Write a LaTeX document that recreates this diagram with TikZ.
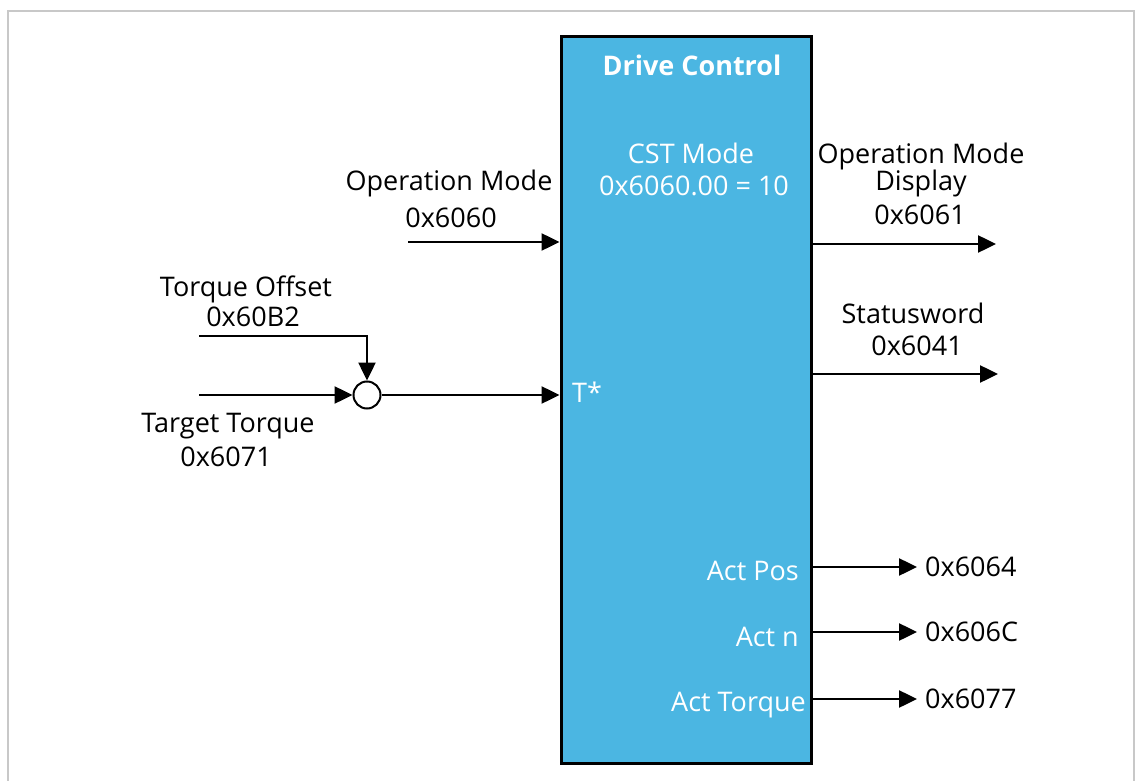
\documentclass[tikz,border=0pt]{standalone}
\usepackage{fontspec}
\setmainfont{Open Sans}
\usetikzlibrary{arrows.meta}
\definecolor{boxblue}{HTML}{4BB6E2}
\definecolor{framegray}{HTML}{C8C8C8}
\tikzset{
  lbl/.style={font=\fontsize{27}{32}\selectfont, inner sep=0pt, anchor=base, align=center},
  wlbl/.style={lbl, text=white},
  arr/.style={line width=2.5pt, -{Triangle[length=18pt,width=17pt]}},
}
\begin{document}
\begin{tikzpicture}[x=1pt,y=-1pt]
\useasboundingbox (0,0) rectangle (1136,781);
\draw[framegray, line width=2pt] (8,781) -- (8,11) -- (1134,11) -- (1134,781);

% main block
\node[draw=black, line width=3pt, fill=boxblue, minimum width=250pt, minimum height=726pt, inner sep=0pt] (dc) at (686,400) {};
\node[wlbl, font=\fontsize{27}{32}\selectfont\bfseries] (title) at (692,76) {Drive Control};
\node[wlbl] (cst) at (691,164) {CST Mode};
\node[wlbl] (cstv) at (694,196) {0x6060.00 = 10};
\node[wlbl, anchor=base west] (tstar) at (572,402) {T*};
\node[wlbl, anchor=base east] (apos) at (799,580) {Act Pos};
\node[wlbl, anchor=base east] (an) at (799,646) {Act n};
\node[wlbl, anchor=base east] (atq) at (806,711) {Act Torque};

% left inputs
\node[lbl] (om) at (449,190) {Operation Mode};
\node[lbl] (omv) at (451,228) {0x6060};
\coordinate (omin) at (408,242);
\draw[arr] (omin) -- (omin -| dc.west);

\node[lbl] (to) at (246,296) {Torque Offset};
\node[lbl] (tov) at (253,326) {0x60B2};
\node[lbl] (tt) at (228,432) {Target Torque};
\node[lbl] (ttv) at (226,466) {0x6071};

\node[draw=black, line width=2pt, fill=white, circle, minimum size=27pt, inner sep=0pt] (sum) at (367,395) {};
\coordinate (toin) at (199,336);
\coordinate (ttin) at (199,395);
\draw[arr] (toin) -- (toin -| sum) -- (sum.north);
\draw[arr] (ttin) -- (sum.west);
\draw[arr] (sum.east) -- (sum.east -| dc.west);

% right outputs
\node[lbl] (omd) at (921,190) {Operation Mode\\[-5pt]Display};
\node[lbl] (omdv) at (920,224) {0x6061};
\node[lbl] (sw) at (913,323) {Statusword};
\node[lbl] (swv) at (917,355) {0x6041};
\coordinate (omdout) at (996,244);
\coordinate (swout) at (998,374);
\draw[arr] (omdout -| dc.east) -- (omdout);
\draw[arr] (swout -| dc.east) -- (swout);

\node[lbl, anchor=base west] (p64) at (925,576) {0x6064};
\node[lbl, anchor=base west] (p6c) at (925,641) {0x606C};
\node[lbl, anchor=base west] (p77) at (925,708) {0x6077};
\coordinate (o64) at (917,567);
\coordinate (o6c) at (917,632);
\coordinate (o77) at (917,699);
\draw[arr] (o64 -| dc.east) -- (o64);
\draw[arr] (o6c -| dc.east) -- (o6c);
\draw[arr] (o77 -| dc.east) -- (o77);
\end{tikzpicture}
\end{document}
